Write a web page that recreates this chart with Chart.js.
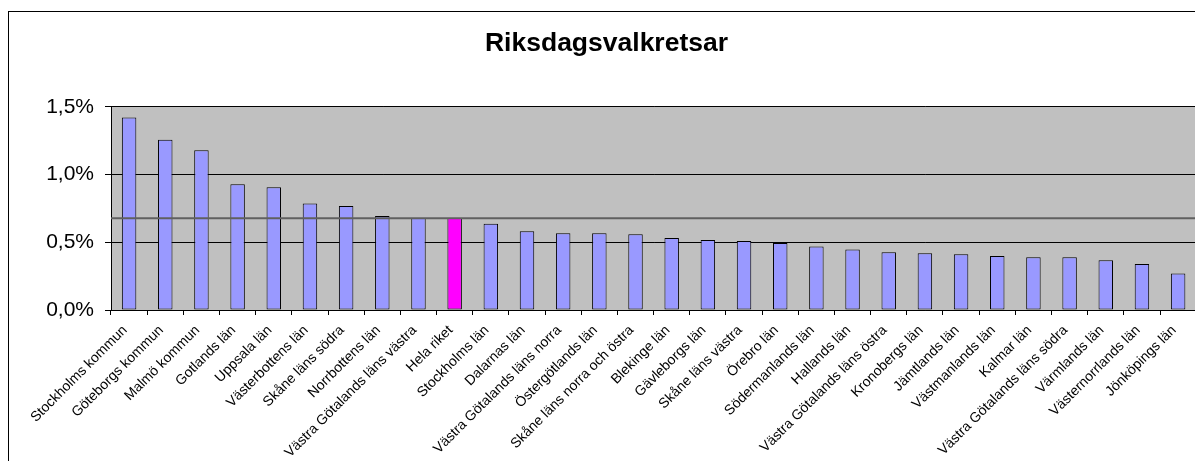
<!DOCTYPE html>
<html>
<head>
<meta charset="utf-8">
<script src="https://cdn.jsdelivr.net/npm/chart.js@4/dist/chart.umd.min.js"></script>
<style>
  html, body { margin: 0; padding: 0; overflow: hidden; background: #fff; }
  #wrap { width: 1197px; height: 461px; }
</style>
</head>
<body>
<div id="wrap"><canvas id="chart"></canvas></div>
<script>
// Riksdagsvalkretsar - share per constituency, sorted
const kretsar = [
  'Stockholms kommun', 'Göteborgs kommun', 'Malmö kommun', 'Gotlands län', 'Uppsala län',
  'Västerbottens län', 'Skåne läns södra', 'Norrbottens län', 'Västra Götalands läns västra', 'Hela riket',
  'Stockholms län', 'Dalarnas län', 'Västra Götalands läns norra', 'Östergötlands län', 'Skåne läns norra och östra',
  'Blekinge län', 'Gävleborgs län', 'Skåne läns västra', 'Örebro län', 'Södermanlands län',
  'Hallands län', 'Västra Götalands läns östra', 'Kronobergs län', 'Jämtlands län', 'Västmanlands län',
  'Kalmar län', 'Västra Götalands läns södra', 'Värmlands län', 'Västernorrlands län', 'Jönköpings län'
];
const andel = [
  1.421, 1.257, 1.179, 0.929, 0.907,
  0.787, 0.767, 0.693, 0.679, 0.679,
  0.637, 0.581, 0.566, 0.566, 0.559,
  0.532, 0.517, 0.510, 0.495, 0.468,
  0.446, 0.426, 0.419, 0.412, 0.399,
  0.390, 0.390, 0.368, 0.340, 0.270
];
const rikssnitt = 0.678;
const yTicks = [0, 0.5, 1.0, 1.5];

const FONT = 'Arial, "Liberation Sans", sans-serif';

const barColors = kretsar.map(k => k === 'Hela riket' ? '#FF00FF' : '#9999FF');

const frameAndBackground = {
  id: 'frameAndBackground',
  beforeDraw(chart) {
    const { ctx, chartArea } = chart;
    ctx.save();
    ctx.strokeStyle = '#000';
    ctx.lineWidth = 1;
    ctx.strokeRect(8.5, 11.5, 1400, 600);
    ctx.fillStyle = '#C0C0C0';
    ctx.fillRect(chartArea.left, chartArea.top, chartArea.right - chartArea.left, chartArea.bottom - chartArea.top);
    ctx.restore();
  }
};

const averageLine = {
  id: 'averageLine',
  afterDatasetsDraw(chart) {
    const { ctx, chartArea, scales } = chart;
    const y = scales.y.getPixelForValue(rikssnitt);
    ctx.save();
    ctx.strokeStyle = '#606060';
    ctx.lineWidth = 2;
    ctx.beginPath();
    ctx.moveTo(chartArea.left, y);
    ctx.lineTo(chartArea.right, y);
    ctx.stroke();
    ctx.restore();
  }
};

new Chart(document.getElementById('chart'), {
  type: 'bar',
  data: {
    labels: kretsar,
    datasets: [{
      data: andel,
      backgroundColor: barColors,
      borderColor: '#000',
      borderWidth: 1,
      borderSkipped: false,
      barPercentage: 0.4,
      categoryPercentage: 1.0
    }]
  },
  options: {
    responsive: true,
    maintainAspectRatio: false,
    animation: false,
    layout: { padding: { left: 16, right: 0, top: 0, bottom: 0 } },
    plugins: {
      legend: { display: false },
      tooltip: { enabled: false },
      title: {
        display: true,
        text: 'Riksdagsvalkretsar',
        color: '#000',
        font: { family: FONT, size: 26.5, weight: 'bold' },
        padding: { top: 28, bottom: 47 }
      }
    },
    scales: {
      x: {
        grid: { display: true, drawOnChartArea: false, color: '#000', tickLength: 5, offset: true },
        border: { color: '#000', width: 1 },
        ticks: {
          color: '#000',
          font: { family: FONT, size: 14 },
          autoSkip: false,
          minRotation: 45,
          maxRotation: 45,
          padding: 7,
          labelOffset: -4
        },
        afterFit(scale) { scale.height = 151; }
      },
      y: {
        min: 0,
        max: 1.5,
        afterBuildTicks(scale) { scale.ticks = yTicks.map(v => ({ value: v })); },
        grid: { color: '#000', tickLength: 6 },
        border: { color: '#000', width: 1 },
        ticks: {
          color: '#000',
          font: { family: FONT, size: 21 },
          padding: 11,
          callback: v => v.toFixed(1).replace('.', ',') + '%'
        },
        afterFit(scale) { scale.width = 95; }
      }
    }
  },
  plugins: [frameAndBackground, averageLine]
});
</script>
</body>
</html>
